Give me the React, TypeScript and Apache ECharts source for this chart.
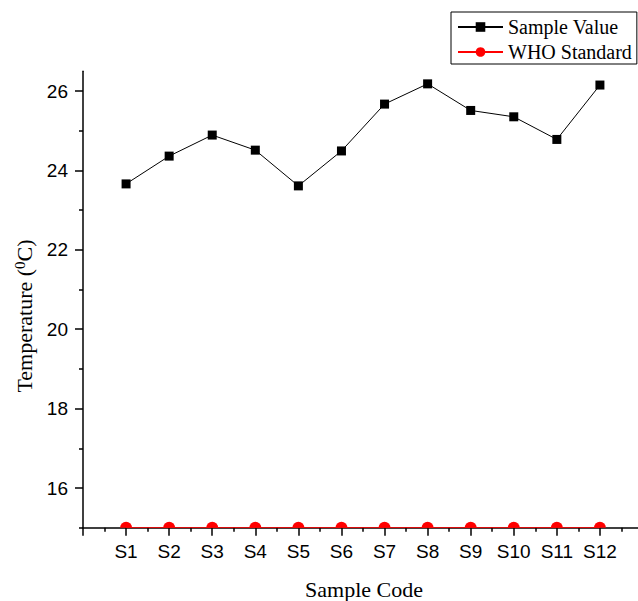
import React, { useEffect, useRef } from "react";
import * as echarts from "echarts";

const categories = ["S1", "S2", "S3", "S4", "S5", "S6", "S7", "S8", "S9", "S10", "S11", "S12"];
const sampleValues = [23.66, 24.36, 24.89, 24.51, 23.61, 24.49, 25.67, 26.18, 25.51, 25.35, 24.78, 26.15];
const whoValues = [15, 15, 15, 15, 15, 15, 15, 15, 15, 15, 15, 15];
const yMajorTicks = [16, 18, 20, 22, 24, 26];
const yMinorTicks = [15, 17, 19, 21, 23, 25];

const SERIF = "'Liberation Serif', 'Times New Roman', serif";
const SANS = "'Liberation Sans', Arial, sans-serif";
const HALF_CIRCLE = "path://M0,10 A10,10 0 0 1 20,10 Z";

export default function App() {
  const ref = useRef<HTMLDivElement>(null);
  useEffect(() => {
    if (!ref.current) return;
    const chart = echarts.init(ref.current, null, { renderer: "svg" });
    const grid = {
      left: 83,
      right: -5,
      top: 71.15,
      bottom: 73.3,
      containLabel: false,
      outerBoundsMode: "none",
    };
    chart.setOption({
      animation: false,
      backgroundColor: "#ffffff",
      grid,
      legend: {
        orient: "vertical",
        left: 451,
        top: 12,
        borderColor: "#000",
        borderWidth: 1,
        padding: [5, 5, 2, 6],
        itemWidth: 45,
        itemHeight: 12,
        itemGap: 5,
        textStyle: { fontFamily: SERIF, fontSize: 20, lineHeight: 20, color: "#000" },
        data: ["Sample Value", "WHO Standard"],
      },
      xAxis: {
        type: "value",
        min: 0,
        max: 13,
        interval: 1,
        axisLine: { show: true, onZero: false, lineStyle: { color: "#000", width: 1.5 } },
        axisTick: { show: true, inside: false, length: 8, lineStyle: { color: "#000", width: 1.5 } },
        minorTick: { show: true, splitNumber: 2, length: 4, lineStyle: { color: "#000", width: 1.5 } },
        splitLine: { show: false },
        minorSplitLine: { show: false },
        axisLabel: {
          fontFamily: SANS,
          fontSize: 19,
          color: "#000",
          margin: 14,
          formatter: (v: number) => (v >= 1 && v <= categories.length ? categories[v - 1] : ""),
        },
      },
      yAxis: [
        {
          type: "value",
          min: 15,
          max: 26.5,
          position: "left",
          axisLine: { show: true, onZero: false, lineStyle: { color: "#000", width: 1.5 } },
          axisTick: { show: true, inside: false, length: 8, customValues: yMajorTicks, lineStyle: { color: "#000", width: 1.5 } },
          axisLabel: { fontFamily: SANS, fontSize: 19, color: "#000", margin: 15, customValues: yMajorTicks },
          splitLine: { show: false },
        },
        {
          type: "value",
          min: 15,
          max: 26.5,
          position: "left",
          axisLine: { show: false },
          axisTick: { show: true, inside: false, length: 4, customValues: yMinorTicks, lineStyle: { color: "#000", width: 1.5 } },
          axisLabel: { show: false },
          splitLine: { show: false },
        },
      ],
      graphic: [
        {
          type: "text",
          x: 24,
          y: 316,
          rotation: Math.PI / 2,
          style: {
            text: "Temperature ({sup|0}C)",
            font: `22px ${SERIF}`,
            fill: "#000",
            align: "center",
            verticalAlign: "middle",
            rich: {
              sup: { fontFamily: SERIF, fontSize: 15, fill: "#000", verticalAlign: "top", padding: [0, 0, 9, 0] },
            },
          },
        },
        {
          type: "text",
          x: 364,
          y: 589,
          style: {
            text: "Sample Code",
            font: `22px ${SERIF}`,
            fill: "#000",
            align: "center",
            verticalAlign: "middle",
          },
        },
      ],
      series: [
        {
          name: "Sample Value",
          type: "line",
          yAxisIndex: 0,
          data: categories.map((c, i) => [i + 1, sampleValues[i]]),
          symbol: "rect",
          symbolSize: 9,
          itemStyle: { color: "#000" },
          lineStyle: { color: "#000", width: 1 },
          z: 3,
        },
        {
          name: "WHO Standard",
          type: "line",
          yAxisIndex: 0,
          data: categories.map((c, i) => ({
            value: [i + 1, whoValues[i]],
            symbol: HALF_CIRCLE,
            symbolSize: [12, 6],
            symbolOffset: [0, -3],
          })),
          symbol: "circle",
          symbolSize: 11,
          itemStyle: { color: "#ff0000" },
          lineStyle: { color: "#ff0000", width: 1 },
          z: 4,
        },
      ],
    });
    return () => chart.dispose();
  }, []);
  return (
    <div
      ref={ref}
      style={{ position: "fixed", left: 0, top: 0, width: 638, height: 601 }}
    />
  );
}
